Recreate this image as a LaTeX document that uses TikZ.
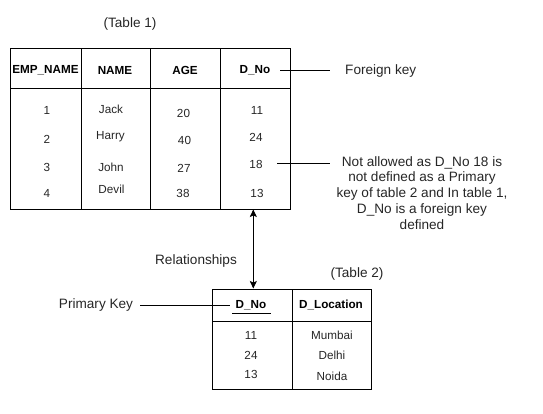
\documentclass[tikz,border=0pt]{standalone}
\usepackage{fontspec}
\setmainfont{Liberation Sans}
\usetikzlibrary{arrows.meta}
\tikzset{
  cell/.style={inner sep=0pt, font=\fontsize{11.7}{13}\selectfont, text=black!85},
  head/.style={inner sep=0pt, font=\fontsize{11.7}{13}\selectfont\bfseries},
  lbl/.style={inner sep=0pt, font=\fontsize{13.6}{15.8}\selectfont, text=black!85},
  box/.style={draw=black, line width=1pt},
  conn/.style={draw=black, line width=0.9pt}
}
\begin{document}
\begin{tikzpicture}[x=1pt,y=-1pt]
\useasboundingbox (0,0) rectangle (543,414);
% Table 1
\node[lbl] (t1title) at (130,24) {(Table 1)};
\draw[box] (10,49) rectangle (290,209);
\draw[box] (10,89) -- (290,89);
\draw[box] (81,49) -- (81,209);
\draw[box] (150,49) -- (150,209);
\draw[box] (220,49) -- (220,209);
\node[head] (h1) at (45.5,70) {EMP\_NAME};
\node[head] (h2) at (115,70) {NAME};
\node[head] (h3) at (185,70) {AGE};
\node[head] (h4) at (255,70) {D\_No};
\node[cell] (a1) at (47,110) {1};
\node[cell] (a2) at (47,139) {2};
\node[cell] (a3) at (47,167) {3};
\node[cell] (a4) at (47,193) {4};
\node[cell] (b1) at (111,109) {Jack};
\node[cell] (b2) at (110.5,137) {Harry};
\node[cell] (b3) at (111,167) {John};
\node[cell] (b4) at (111.5,189) {Devil};
\node[cell] (c1) at (183.5,113) {20};
\node[cell] (c2) at (184.5,140) {40};
\node[cell] (c3) at (184,168) {27};
\node[cell] (c4) at (183,193) {38};
\node[cell] (d1) at (257,110) {11};
\node[cell] (d2) at (256,137) {24};
\node[cell] (d3) at (256,164) {18};
\node[cell] (d4) at (257,193) {13};
% Foreign key
\coordinate (fkA) at (280,70);
\coordinate (fkB) at (330,70);
\draw[conn] (fkA) -- (fkB);
\node[lbl, anchor=west] (fk) at (345,71) {Foreign key};
% Not allowed
\coordinate (naA) at (277,163);
\coordinate (naB) at (330,163);
\draw[conn] (naA) -- (naB);
\node[lbl, align=center, anchor=north] (na) at (422,156) {Not allowed as D\_No 18 is\\not defined as a Primary\\key of table 2 and In table 1,\\D\_No is a foreign key\\defined};
% Table 2
\node[lbl] (t2title) at (357,274) {(Table 2)};
\draw[box] (212,289) rectangle (371,389);
\draw[box] (212,321) -- (371,321);
\draw[box] (292,289) -- (292,389);
\node[head] (g1) at (251,305) {D\_No};
\node[head] (g2) at (331,305) {D\_Location};
\draw[line width=1.8pt] (232,313.5) -- (271,313.5);
\node[cell] (e1) at (251,335) {11};
\node[cell] (e2) at (251,355) {24};
\node[cell] (e3) at (251,374) {13};
\node[cell] (f1) at (332,335) {Mumbai};
\node[cell] (f2) at (332,355) {Delhi};
\node[cell] (f3) at (332,376) {Noida};
% Relationship arrow
\coordinate (rA) at (253.3,209.5);
\coordinate (rB) at (253.3,288.5);
\draw[conn, {Stealth[length=7.5pt,width=7pt,inset=1.5pt]}-{Stealth[length=7.5pt,width=7pt,inset=1.5pt]}] (rA) -- (rB);
\node[lbl] (rel) at (196,261) {Relationships};
% Primary key
\node[lbl] (pk) at (96,305) {Primary Key};
\coordinate (pkA) at (140,305);
\coordinate (pkB) at (230,305);
\draw[conn] (pkA) -- (pkB);
\end{tikzpicture}
\end{document}
